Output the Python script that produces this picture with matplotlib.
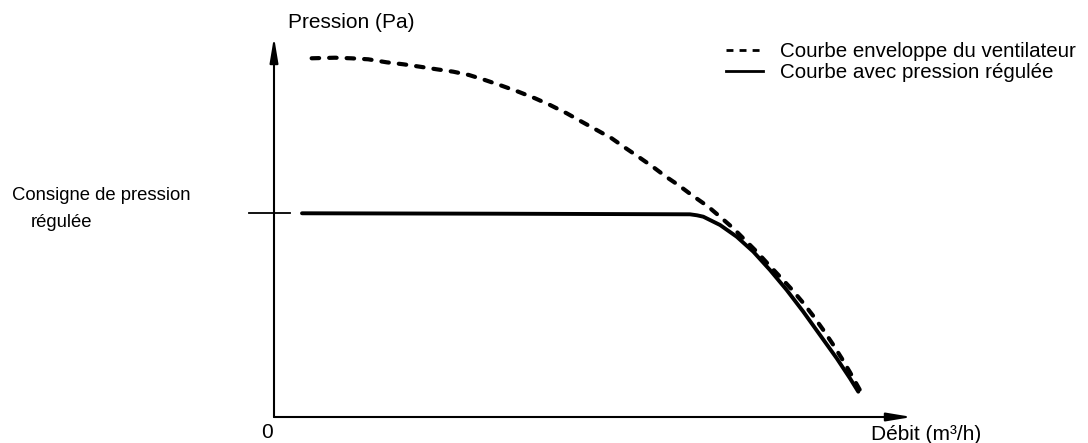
import matplotlib.pyplot as plt
from matplotlib.lines import Line2D

plt.rcParams.update({
    "font.family": ["Liberation Sans", "DejaVu Sans"],
    "font.size": 15,
})

# fan envelope curve (flow, pressure) in relative units
env_q = [5.9, 9.56, 12.18, 14.78, 17.66, 20.27, 22.88, 25.50, 28.10, 30.56,
         33.07, 35.69, 38.29, 40.91, 43.26, 45.88, 48.23, 50.58, 52.93,
         55.02, 57.10, 59.36, 61.44, 63.37, 65.47, 68.07, 69.91, 71.99,
         73.82, 75.66, 77.48, 79.31, 81.14, 82.87, 84.53, 86.10, 87.57,
         88.98, 90.28, 92.0]
env_p = [94.4, 94.55, 94.39, 94.13, 93.34, 92.82, 92.18, 91.50, 90.87, 90.00,
         88.68, 87.18, 85.61, 83.87, 82.11, 79.92, 77.71, 75.53, 73.34,
         70.87, 68.50, 65.87, 63.24, 61.05, 58.42, 55.34, 52.71, 49.66,
         46.58, 43.50, 40.18, 36.92, 33.61, 30.18, 26.58, 22.89, 19.21,
         15.45, 11.76, 6.6]

# regulated pressure curve
reg_q = [4.39, 35.0, 65.20, 66.3, 67.29, 69.91, 72.52, 75.13, 77.74, 80.36,
         82.96, 85.58, 88.20, 90.28, 91.58]
reg_p = [53.61, 53.5, 53.34, 53.08, 52.71, 50.53, 47.45, 43.50, 38.68, 33.42,
         27.71, 21.58, 15.45, 10.18, 6.66]

setpoint = 53.76
labels = ["Courbe enveloppe du ventilateur", "Courbe avec pression régulée"]

fig = plt.figure(figsize=(10.88, 4.43), dpi=100)
ax = fig.add_axes([274 / 1088, 26 / 443, 638 / 1088, 380 / 443])
ax.set_xlim(0, 100)
ax.set_ylim(0, 100)
ax.axis("off")

ax.plot(env_q, env_p, color="black", lw=3, linestyle=(0, (1.8, 2.4)),
        dash_capstyle="round", solid_capstyle="round")
ax.plot(reg_q, reg_p, color="black", lw=2.8, solid_capstyle="round",
        solid_joinstyle="round")

# axes with arrows
arrow = dict(arrowstyle="-|>,head_length=1.5,head_width=0.25", lw=1.5,
             color="black", mutation_scale=10, shrinkA=0, shrinkB=0)
ax.annotate("", xy=(1, 0), xytext=(0, 0), xycoords="axes fraction",
            arrowprops=arrow)
ax.annotate("", xy=(0, 1), xytext=(0, 0), xycoords="axes fraction",
            arrowprops=arrow)

# setpoint tick
ax.plot([-3.9, 2.5], [setpoint, setpoint], color="black", lw=1.3,
        clip_on=False)

fig.text(267 / 1088, 1 - 432 / 443, "0", ha="center", va="center")
fig.text(926 / 1088, 1 - 435 / 443, "Débit (m³/h)", ha="center", va="center")
fig.text(351 / 1088, 1 - 22 / 443, "Pression (Pa)", ha="center",
         va="center")
fig.text(12 / 1088, 1 - 195 / 443, "Consigne de pression", ha="left",
         va="center", fontsize=13.3)
fig.text(31 / 1088, 1 - 223 / 443, "régulée", ha="left", va="center",
         fontsize=13.3)

handles = [
    Line2D([], [], color="black", lw=2.0, linestyle=(0, (2.5, 2.2))),
    Line2D([], [], color="black", lw=2.0),
]
fig.legend(handles, labels, loc="upper left",
           bbox_to_anchor=(718 / 1088, 1 - 34 / 443), frameon=False,
           handlelength=1.8, handletextpad=0.85, labelspacing=0.1,
           borderaxespad=0, fontsize=14.75)

fig.savefig("out.png", dpi=100)
